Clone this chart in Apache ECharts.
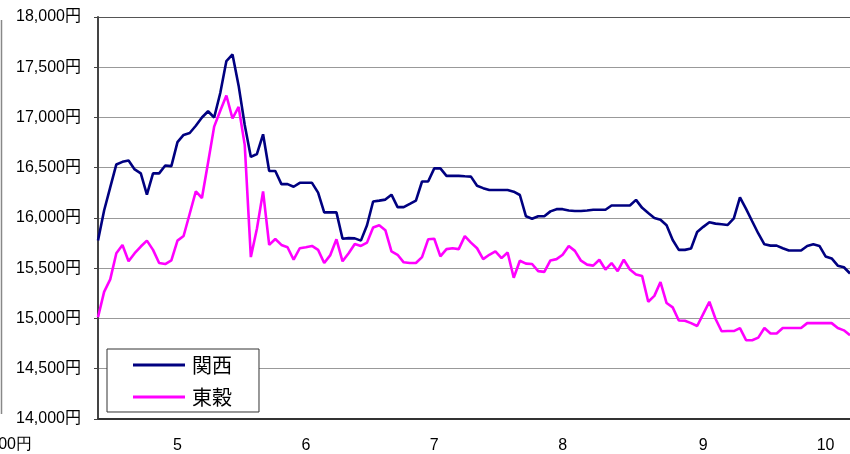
<!DOCTYPE html>
<html>
<head>
<meta charset="utf-8">
<script src="https://cdn.jsdelivr.net/npm/echarts@6/dist/echarts.min.js"></script>
<style>
html,body{margin:0;padding:0;background:#fff;}
#chart{width:850px;height:454px;}
</style>
</head>
<body>
<div id="chart"></div>
<script>
// Series names
const seriesNames = ['関西', '東穀'];

// 関西 (navy) daily prices, yen
const kansai = [
  15775, 16075, 16304, 16533, 16559, 16572, 16483, 16444, 16232, 16444,
  16444, 16523, 16516, 16755, 16827, 16846, 16918, 17000, 17062, 17000,
  17244, 17562, 17627, 17317, 16925, 16608, 16637, 16833, 16468, 16468,
  16337, 16337, 16311, 16350, 16350, 16350, 16252, 16056, 16056, 16056,
  15794, 15800, 15797, 15775, 15928, 16164, 16173, 16183, 16232, 16108,
  16108, 16140, 16173, 16363, 16363, 16494, 16494, 16419, 16419, 16419,
  16415, 16412, 16320, 16297, 16278, 16278, 16278, 16278, 16262, 16229,
  16017, 15993, 16017, 16017, 16066, 16088, 16088, 16075, 16069, 16069,
  16075, 16082, 16082, 16082, 16124, 16124, 16124, 16124, 16180, 16101,
  16049, 16000, 15983, 15928, 15781, 15683, 15683, 15696, 15860, 15912,
  15958, 15944, 15938, 15931, 15997, 16206, 16091, 15968, 15846, 15738,
  15725, 15725, 15699, 15676, 15676, 15676, 15722, 15738, 15722, 15618,
  15598, 15526, 15510, 15448
];

// 東穀 (magenta) daily prices, yen
const tokoku = [
  15013, 15265, 15389, 15650, 15732, 15569, 15650, 15716, 15775, 15683,
  15552, 15542, 15578, 15775, 15821, 16042, 16265, 16199, 16549, 16909,
  17068, 17219, 16990, 17105, 16728, 15611, 15895, 16265, 15732, 15791,
  15732, 15709, 15585, 15699, 15709, 15722, 15683, 15552, 15631, 15788,
  15569, 15650, 15742, 15722, 15755, 15905, 15928, 15879, 15667, 15634,
  15559, 15552, 15552, 15611, 15788, 15794, 15618, 15690, 15699, 15690,
  15820, 15755, 15699, 15591, 15634, 15667, 15601, 15657, 15405, 15575,
  15546, 15542, 15471, 15464, 15578, 15591, 15634, 15722, 15673, 15575,
  15536, 15526, 15585, 15487, 15552, 15471, 15585, 15487, 15438, 15422,
  15167, 15225, 15363, 15154, 15111, 14980, 14977, 14954, 14925, 15046,
  15167, 14997, 14873, 14875, 14875, 14905, 14784, 14784, 14810, 14905,
  14850, 14850, 14905, 14905, 14905, 14905, 14954, 14954, 14954, 14954,
  14954, 14905, 14882, 14833
];

// Month tick labels and the trading-day index at which each is shown
const monthLabels = ['5', '6', '7', '8', '9', '10'];
const monthLabelIdx = [13, 34, 55, 76, 99, 119];

// Y axis range
const yMin = 14000, yMax = 18000, yStep = 500;

const categories = kansai.map((_, i) => String(i));
const labelAt = {};
monthLabelIdx.forEach((idx, k) => { labelAt[idx] = monthLabels[k]; });

function yen(v) {
  return String(v).replace(/\B(?=(\d{3})+(?!\d))/g, ',') + '円';
}

const FONT = '"Liberation Sans", Arial, "Noto Sans CJK JP", sans-serif';
const chart = echarts.init(document.getElementById('chart'), null, { renderer: 'canvas' });

chart.setOption({
  backgroundColor: '#ffffff',
  animation: false,
  grid: { left: 98, top: 17, right: -1, bottom: 29, containLabel: false },
  legend: {
    orient: 'vertical',
    left: 107,
    top: 349,
    data: seriesNames,
    icon: 'rect',
    itemWidth: 52,
    itemHeight: 3,
    itemGap: 12,
    padding: [6, 27, 5, 26],
    borderColor: '#333',
    borderWidth: 1,
    backgroundColor: '#fff',
    textStyle: { fontSize: 20, color: '#000', fontFamily: '"Noto Sans CJK JP", sans-serif', padding: [0, 0, 0, 2] }
  },
  xAxis: {
    type: 'category',
    data: categories,
    boundaryGap: false,
    axisLine: { lineStyle: { color: '#333', width: 2 } },
    axisTick: { show: false },
    axisLabel: {
      interval: (idx) => labelAt[idx] !== undefined,
      formatter: (v, idx) => labelAt[idx] || '',
      fontSize: 16,
      color: '#000',
      fontFamily: FONT,
      margin: 19
    },
    splitLine: { show: false }
  },
  yAxis: {
    type: 'value',
    min: yMin,
    max: yMax,
    interval: yStep,
    axisLine: { show: true, lineStyle: { color: '#444', width: 2 } },
    axisTick: { show: true, length: 4, lineStyle: { color: '#444' } },
    axisLabel: {
      formatter: yen,
      fontSize: 16,
      color: '#000',
      fontFamily: FONT,
      margin: 17
    },
    splitLine: {
      show: true,
      lineStyle: {
        color: ['#999', '#999', '#999', '#999', '#999', '#999', '#999', '#999', '#555'],
        width: 1
      }
    }
  },
  series: [
    {
      name: seriesNames[0],
      type: 'line',
      data: kansai,
      symbol: 'none',
      color: '#000080',
      lineStyle: { color: '#000080', width: 2.6 },
      z: 3
    },
    {
      name: seriesNames[1],
      type: 'line',
      data: tokoku,
      symbol: 'none',
      color: '#ff00ff',
      lineStyle: { color: '#ff00ff', width: 2.6 },
      z: 2
    }
  ],
  graphic: [
    { type: 'line', shape: { x1: 1.5, y1: 20, x2: 1.5, y2: 414 }, style: { stroke: '#888', lineWidth: 1.5 } },
    { type: 'text', right: 818, top: 437, style: { text: '14,000円', fontSize: 16, fill: '#000', font: '16px ' + FONT } }
  ]
});
</script>
</body>
</html>
